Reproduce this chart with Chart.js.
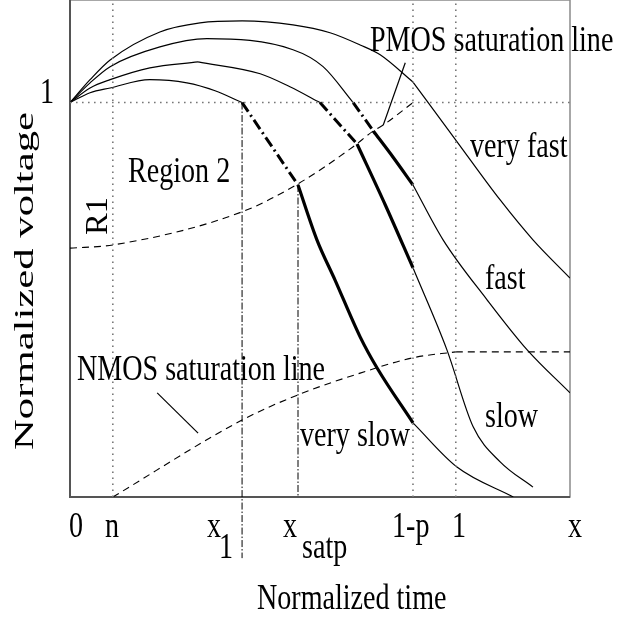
<!DOCTYPE html>
<html lang="en">
<head>
<meta charset="UTF-8">
<title>Normalized voltage vs normalized time</title>
<script src="https://cdn.jsdelivr.net/npm/chart.js"></script>
<style>
    html, body {margin: 0; padding: 0; background: #fff;}
</style>
</head>
<body>
<canvas id="myChart" width="639" height="620"></canvas>
<script>
// axis range (x = normalized time, y = normalized voltage)
const xMax = 1.296, yMax = 1.26;
const xN = 0.111, xOne = 0.446, xSatp = 0.591, xOneMinusP = 0.889, xUnit = 1.0;

// very fast
const vfastX = [0, 0.052, 0.104, 0.233, 0.337, 0.446, 0.578, 0.674, 0.752, 0.804, 0.889];
const vfastY = [1, 1.058, 1.108, 1.179, 1.202, 1.207, 1.197, 1.177, 1.146, 1.121, 1.052];
const vfastTailX = [0.889, 1.0, 1.115, 1.2, 1.296];
const vfastTailY = [1.052, 0.905, 0.753, 0.652, 0.555];

// fast
const fastX = [0, 0.052, 0.104, 0.233, 0.355, 0.578, 0.656, 0.734];
const fastY = [1, 1.050, 1.091, 1.141, 1.162, 1.134, 1.091, 1.0];
const fastDashX = [0.734, 0.786];
const fastDashY = [1.0, 0.928];
const fastThickX = [0.786, 0.837, 0.889];
const fastThickY = [0.928, 0.862, 0.791];
const fastTailX = [0.889, 0.967, 1.081, 1.185, 1.296];
const fastTailY = [0.791, 0.652, 0.500, 0.373, 0.264];

// slow
const slowX = [0, 0.052, 0.104, 0.207, 0.332];
const slowY = [1, 1.037, 1.058, 1.088, 1.103];
const slowBendX = [0.332, 0.493, 0.570, 0.648];
const slowBendY = [1.103, 1.073, 1.040, 1.0];
const slowDashX = [0.648, 0.744];
const slowDashY = [1.0, 0.895];
const slowThickX = [0.744, 0.817, 0.889];
const slowThickY = [0.895, 0.741, 0.581];
const slowTailX = [0.889, 0.977, 1.045, 1.115, 1.2];
const slowTailY = [0.581, 0.373, 0.178, 0.089, 0.025];

// very slow
const vslowX = [0, 0.052, 0.104, 0.207, 0.303, 0.376, 0.446];
const vslowY = [1, 1.025, 1.037, 1.058, 1.050, 1.030, 1.0];
const vslowDashX = [0.446, 0.591];
const vslowDashY = [1.0, 0.791];
const vslowThickX = [0.591, 0.640, 0.687, 0.752, 0.796, 0.889];
const vslowThickY = [0.791, 0.652, 0.550, 0.406, 0.327, 0.188];
const vslowTailX = [0.889, 1.003, 1.149];
const vslowTailY = [0.188, 0.076, 0];

// saturation lines
const pmosX = [0, 0.111, 0.446, 0.591, 0.734, 0.786, 0.812, 0.889];
const pmosY = [0.631, 0.639, 0.723, 0.794, 0.888, 0.928, 0.943, 1.0];
const nmosX = [0.111, 0.446, 0.591, 0.752, 0.889, 1.0];
const nmosY = [0, 0.195, 0.259, 0.314, 0.353, 0.368];
const nmosFlatX = [1.0, 1.296];
const nmosFlatY = [0.368, 0.368];

// leader lines of the two saturation labels
const pmosLeadX = [0.869, 0.812];
const pmosLeadY = [1.101, 0.943];
const nmosLeadX = [0.226, 0.332];
const nmosLeadY = [0.264, 0.162];

// x tick labels
const tickText = ['0', 'n', 'x', 'x', '1-p', '1', 'x'];
const tickSub = ['', '', '1', 'satp', '', '', ''];

function pts(xs, ys) {
    return xs.map((x, i) => ({x: x, y: ys[i]}));
}

const thin = {borderWidth: 1.2};
const smooth = {borderWidth: 1.2, cubicInterpolationMode: 'monotone'};
const thick = {borderWidth: 3.2, cubicInterpolationMode: 'monotone'};
const dashDot = {borderWidth: 3, borderDash: [11, 4, 2, 4]};
const dotted = {borderColor: '#777', borderWidth: 1.6, borderDash: [1.6, 4.4]};
const dashed = {borderWidth: 1.1, borderDash: [7, 5], cubicInterpolationMode: 'monotone'};
const guide = {borderWidth: 1, borderDash: [7, 2, 1.5, 2]};

function line(xs, ys, style) {
    return Object.assign({
        data: pts(xs, ys),
        showLine: true,
        pointRadius: 0,
        borderColor: '#000',
        fill: false
    }, style);
}

const datasets = [
    // grid guides
    line([0, xMax], [1, 1], dotted),
    line([xN, xN], [0, yMax], dotted),
    line([xOneMinusP, xOneMinusP], [0, yMax], dotted),
    line([xUnit, xUnit], [0, yMax], dotted),
    line([xOne, xOne], [1, -0.155], Object.assign({clip: false}, guide)),
    line([xSatp, xSatp], [0.791, 0], guide),
    // saturation lines
    line(pmosX, pmosY, dashed),
    line(nmosX, nmosY, dashed),
    line(nmosFlatX, nmosFlatY, dashed),
    line(pmosLeadX, pmosLeadY, thin),
    line(nmosLeadX, nmosLeadY, thin),
    // curves
    line(vfastX, vfastY, smooth),
    line(vfastTailX, vfastTailY, smooth),
    line(fastX, fastY, smooth),
    line(fastDashX, fastDashY, dashDot),
    line(fastThickX, fastThickY, thick),
    line(fastTailX, fastTailY, smooth),
    line(slowX, slowY, smooth),
    line(slowBendX, slowBendY, smooth),
    line(slowDashX, slowDashY, dashDot),
    line(slowThickX, slowThickY, thick),
    line(slowTailX, slowTailY, smooth),
    line(vslowX, vslowY, smooth),
    line(vslowDashX, vslowDashY, dashDot),
    line(vslowThickX, vslowThickY, thick),
    line(vslowTailX, vslowTailY, smooth)
];

const FONT = "36px 'Liberation Serif', 'Times New Roman', serif";
const SX = 0.78;

function put(ctx, s, x, y, sx, sy, rot) {
    ctx.save();
    ctx.translate(x, y);
    if (rot) ctx.rotate(rot);
    ctx.scale(sx, sy);
    ctx.fillText(s, 0, 0);
    ctx.restore();
}

// rotated text stretched to a given length
function putFit(ctx, s, x, y, len, sy) {
    const w = ctx.measureText(s).width;
    put(ctx, s, x, y, len / w, sy, -Math.PI / 2);
}

const frame = {
    id: 'frame',
    beforeDatasetsDraw(chart) {
        const {ctx, chartArea: a} = chart;
        ctx.save();
        ctx.strokeStyle = '#8a8a8a';
        ctx.lineWidth = 1.5;
        ctx.strokeRect(a.left, a.top, a.right - a.left, a.bottom - a.top);
        ctx.strokeStyle = '#555';
        ctx.lineWidth = 2;
        ctx.beginPath();
        ctx.moveTo(a.left, a.top);
        ctx.lineTo(a.left, a.bottom);
        ctx.lineTo(a.right, a.bottom);
        ctx.stroke();
        ctx.restore();
    },
    afterDraw(chart) {
        const ctx = chart.ctx;
        ctx.save();
        ctx.fillStyle = '#000';
        ctx.font = FONT;
        ctx.textBaseline = 'alphabetic';
        ctx.textAlign = 'left';

        // x tick labels
        const tx = [69, 105, 207, 283, 392, 452, 568];
        const sxOff = [0, 0, 12, 19, 0, 0, 0];
        tickText.forEach((t, i) => {
            put(ctx, t, tx[i], 537, SX, 1);
            if (tickSub[i]) put(ctx, tickSub[i], tx[i] + sxOff[i], 558, SX, 1);
        });
        // y tick
        put(ctx, '1', 40, 103, SX, 1);

        // titles
        put(ctx, 'Normalized time', 257, 609, SX, 1);
        putFit(ctx, 'Normalized voltage', 33, 450, 338, 0.78);

        // annotations
        put(ctx, 'PMOS saturation line', 370, 51, SX, 1);
        put(ctx, 'NMOS saturation line', 77, 380, SX, 1);
        put(ctx, 'Region 2', 128, 182, SX, 1);
        putFit(ctx, 'R1', 107, 235, 38, 0.85);
        put(ctx, 'very fast', 470, 157, SX, 1);
        put(ctx, 'fast', 485, 289, SX, 1);
        put(ctx, 'slow', 485, 427, SX, 1);
        put(ctx, 'very slow', 300, 446, SX, 1);
        ctx.restore();
    }
};

new Chart(document.getElementById('myChart'), {
    type: 'scatter',
    data: {datasets: datasets},
    options: {
        responsive: false,
        animation: false,
        events: [],
        layout: {padding: {left: 70, right: 69, top: 0, bottom: 123}},
        plugins: {legend: {display: false}, tooltip: {enabled: false}},
        scales: {
            x: {type: 'linear', min: 0, max: xMax, display: false},
            y: {type: 'linear', min: 0, max: yMax, display: false}
        }
    },
    plugins: [frame]
});
</script>
</body>
</html>
